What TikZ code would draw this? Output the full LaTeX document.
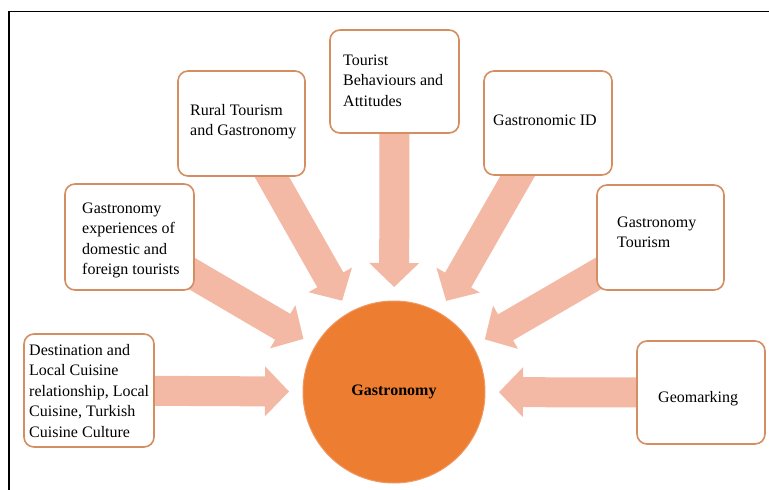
\documentclass[tikz,border=0pt]{standalone}
\usepackage{fontspec}
\setmainfont{Liberation Serif}
\usetikzlibrary{calc,backgrounds}
\definecolor{arrowfill}{RGB}{243,185,165}
\definecolor{boxline}{RGB}{212,142,98}
\definecolor{hub}{RGB}{237,125,49}
\definecolor{hubline}{RGB}{240,150,95}
\newcommand\bigarrow[2]{%
  \coordinate (#1tip) at ($(#2.center)!105pt!(#1.center)$);
  \coordinate (#1base) at ($(#1tip)!24pt!(#1.center)$);
  \fill[arrowfill] ($(#1.center)!15pt!90:(#1tip)$) -- ($(#1base)!15pt!-90:(#1.center)$)
    -- ($(#1base)!25pt!-90:(#1.center)$) -- (#1tip) -- ($(#1base)!25pt!90:(#1.center)$)
    -- ($(#1base)!15pt!90:(#1.center)$) -- ($(#1.center)!15pt!-90:(#1tip)$) -- cycle;}
\begin{document}
\begin{tikzpicture}[x=1pt,y=-1pt,
  box/.style={draw=boxline, line width=1.6pt, rounded corners=10pt, fill=white, inner sep=0pt},
  txt/.style={anchor=north west, inner sep=0pt, align=left, font=\fontsize{16}{20.5}\selectfont},
  hubnode/.style={circle, fill=hub, draw=hubline, line width=1pt, minimum size=182pt, inner sep=0pt,
    font=\fontsize{16}{20}\selectfont\bfseries}]
\useasboundingbox (0,0) rectangle (769,490);
\draw[line width=1.4pt] (9,490) -- (9,11.5) -- (769,11.5);
% centre
\node[hubnode] (c) at (394,392) {Gastronomy};
% boxes
\node[box, minimum width=130pt, minimum height=113pt] (b1) at (89,390.5) {};
\node[box, minimum width=129pt, minimum height=106pt] (b2) at (129.5,237) {};
\node[box, minimum width=127pt, minimum height=105pt] (b3) at (241.5,123.5) {};
\node[box, minimum width=129pt, minimum height=103pt] (b4) at (394.5,81.5) {};
\node[box, minimum width=128pt, minimum height=104pt] (b5) at (548,123) {};
\node[box, minimum width=127pt, minimum height=105pt] (b6) at (660.5,237.5) {};
\node[box, minimum width=128pt, minimum height=103pt] (b7) at (701,392.5) {};
% texts
\node[txt] (t1) at (29,340.6) {\strut Destination and\\Local Cuisine\\relationship, Local\\Cuisine, Turkish\\Cuisine Culture};
\node[txt] (t2) at (82,198.6) {\strut Gastronomy\\experiences of\\domestic and\\foreign tourists};
\node[txt] (t3) at (190,100.6) {\strut Rural Tourism\\and Gastronomy};
\node[txt] (t4) at (343,50.6) {\strut Tourist\\Behaviours and\\Attitudes};
\node[txt] (t5) at (493,110.6) {\strut Gastronomic ID};
\node[txt] (t6) at (617,212.6) {\strut Gastronomy\\Tourism};
\node[txt] (t7) at (658,387.6) {\strut Geomarking};
% arrows
\begin{pgfonlayer}{background}
\bigarrow{b1}{c}
\bigarrow{b2}{c}
\bigarrow{b3}{c}
\bigarrow{b4}{c}
\bigarrow{b5}{c}
\bigarrow{b6}{c}
\bigarrow{b7}{c}
\end{pgfonlayer}
\end{tikzpicture}
\end{document}
